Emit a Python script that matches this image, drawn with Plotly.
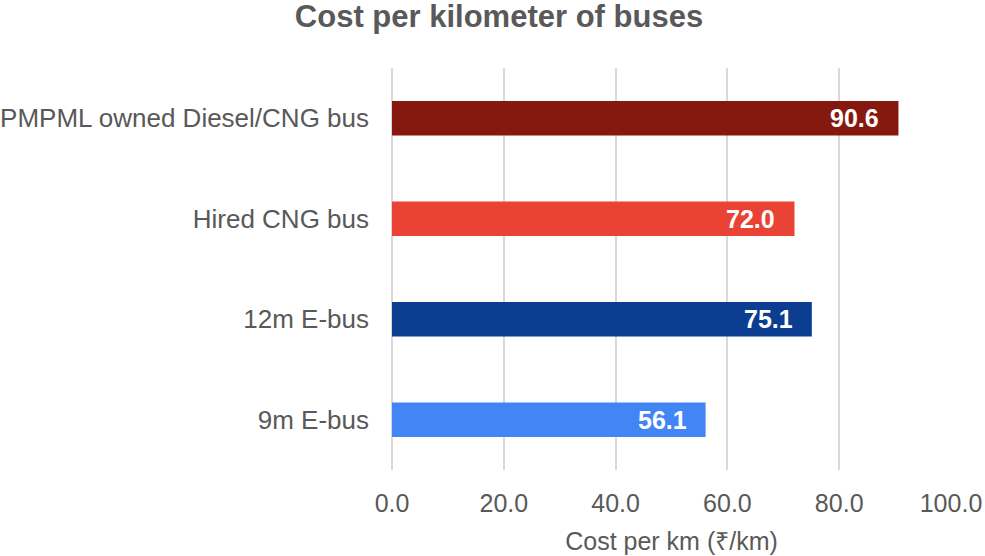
import plotly.graph_objects as go

categories = ["PMPML owned Diesel/CNG bus", "Hired CNG bus", "12m E-bus", "9m E-bus"]
values = [90.6, 72.0, 75.1, 56.1]
colors = ["#85190f", "#ea4335", "#0b3d91", "#4285f4"]
tick_vals = [0, 20, 40, 60, 80, 100]
tick_text = ["0.0", "20.0", "40.0", "60.0", "80.0", "100.0"]

FONT = "Liberation Sans, Arial, sans-serif"
GRAY = "#595959"
W, H = 985, 556

fig = go.Figure()
fig.add_trace(go.Bar(
    x=values, y=categories, orientation="h",
    marker=dict(color=colors, line=dict(width=0)),
    width=0.345, hoverinfo="x+y",
))

for v, c in zip(values, categories):
    fig.add_annotation(
        x=v, y=c, xref="x", yref="y", text=f"<b>{v:.1f}</b>",
        showarrow=False, xanchor="right", yanchor="middle", xshift=-17,
        font=dict(family=FONT, size=25, color="#ffffff"),
    )

fig.update_layout(
    width=W, height=H,
    margin=dict(l=392, r=34, t=68, b=86, autoexpand=False),
    paper_bgcolor="#ffffff", plot_bgcolor="#ffffff",
    showlegend=False,
    title=dict(
        text="<b>Cost per kilometer of buses</b>",
        xref="container", x=499 / W, xanchor="center",
        yref="container", y=1 - 16 / H, yanchor="middle",
        font=dict(family=FONT, size=31, color=GRAY),
    ),
    font=dict(family=FONT, color=GRAY),
    xaxis=dict(
        range=[0, 100], tickvals=tick_vals, ticktext=tick_text,
        showgrid=True, gridcolor="#d9d9d9", gridwidth=2,
        zeroline=True, zerolinecolor="#d9d9d9", zerolinewidth=2,
        showline=False, ticks="",
        tickfont=dict(family=FONT, size=25, color=GRAY),
        ticklabelstandoff=16,
        title=dict(text="Cost per km (₹/km)", standoff=16,
                   font=dict(family=FONT, size=25, color=GRAY)),
        fixedrange=True,
    ),
    yaxis=dict(
        type="category", categoryorder="array", categoryarray=categories,
        autorange="reversed", showgrid=False, zeroline=False, showline=False,
        ticks="", tickfont=dict(family=FONT, size=26, color=GRAY),
        ticklabelstandoff=22, fixedrange=True,
    ),
)

fig.write_html(
    "out.html",
    config={"displayModeBar": False},
    post_script="document.body.style.margin='0';document.body.style.overflow='hidden';",
)
